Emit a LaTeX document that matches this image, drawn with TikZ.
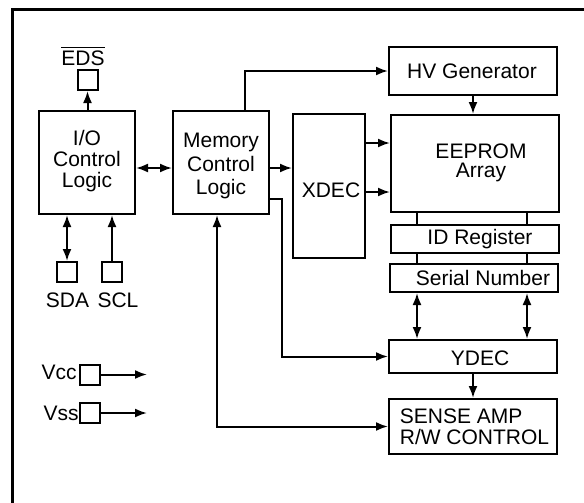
\documentclass[tikz,border=0pt]{standalone}
\usepackage{fontspec}
\setmainfont{Liberation Sans}
\usetikzlibrary{arrows.meta}
\usetikzlibrary{calc}
\newcommand{\blkfont}{\fontsize{10.5}{11.5}\selectfont}

\tikzset{
  blk/.style={draw, line width=1pt, inner sep=0pt},
  pad/.style={draw, line width=1pt, minimum size=10pt, inner sep=0pt},
  txt/.style={inner sep=0pt, align=center, font=\blkfont},
  conn/.style={line width=1pt, >={Latex[length=6pt,width=4.5pt]}},
}

\begin{document}
\begin{tikzpicture}[x=0.5pt,y=-0.5pt]
\useasboundingbox (0,0) rectangle (584,503);
% the frame (top and left only)
\draw[line width=1.5pt] (12,503) -- (12,9) -- (584,9);
% blocks
\node[blk, minimum width=48pt, minimum height=51.5pt] (io) at (87,162.5) {};
\node[blk, minimum width=48pt, minimum height=51.5pt] (mem) at (221,162.5) {};
\node[blk, minimum width=84pt, minimum height=24pt] (hv) at (473,71) {};
\node[blk, minimum width=36pt, minimum height=72pt] (xdec) at (329,186) {};
\node[blk, minimum width=84pt, minimum height=48.5pt] (eeprom) at (475,163.5) {};
\node[blk, minimum width=84pt, minimum height=14pt] (idreg) at (475,239) {};
\node[blk, minimum width=84pt, minimum height=14pt] (serial) at (474,278) {};
\node[blk, minimum width=84pt, minimum height=16.5pt] (ydec) at (473,356.5) {};
\node[blk, minimum width=84pt, minimum height=27.5pt] (sense) at (473,426.5) {};
% pads
\node[pad] (eds) at (87.5,80) {};
\node[pad] (sda) at (67,272) {};
\node[pad] (scl) at (112,272) {};
\node[pad] (vcc) at (89.5,374.5) {};
\node[pad] (vss) at (89.5,413) {};
\coordinate (vccend) at (147,374.5);
\coordinate (vssend) at (147,413);
% texts
\node[txt, font=\fontsize{10.5}{10.5}\selectfont] (tio) at (87,161) {I/O\\Control\\Logic};
\node[txt, font=\fontsize{10.5}{11.75}\selectfont] (tmem) at (221,166) {Memory\\Control\\Logic};
\node[txt] (thv) at (472,71) {HV Generator};
\node[txt] (txdec) at (331,190) {XDEC};
\node[txt, font=\fontsize{10.5}{9.5}\selectfont] (teep) at (481,163) {EEPROM\\Array};
\node[txt] (tid) at (480,239.5) {ID Register};
\node[txt] (tser) at (483,278) {Serial Number};
\node[txt] (tydec) at (480,358) {YDEC};
\node[txt, align=left, font=\fontsize{10.5}{10.5}\selectfont] (tsense) at (474.5,426.5) {SENSE AMP\\R/W CONTROL};
\node[txt] (teds) at (83,56) {$\overline{\mbox{EDS}}$};
\node[txt] (tsda) at (67.5,300) {SDA};
\node[txt] (tscl) at (118,300) {SCL};
\node[txt, anchor=east] (tvcc) at (77,372) {Vcc};
\node[txt, anchor=east] (tvss) at (79,413) {Vss};
% connectors
\draw[conn,->] (eds.south |- io.north) -- (eds.south);
\draw[conn,<->] (io.east |- 0,168) -- (mem.west |- 0,168);
\draw[conn,->] (mem.east |- 0,168) -- (xdec.west |- 0,168);
\draw[conn,->] (mem.north -| 245,0) |- (hv.west);
\draw[conn,->] (hv.south) -- (hv.south |- eeprom.north);
\draw[conn,->] (xdec.east |- 0,143) -- (eeprom.west |- 0,143);
\draw[conn,->] (xdec.east |- 0,192) -- (eeprom.west |- 0,192);
%     columns down the array
\foreach \cx in {417,527} {
  \draw[conn] (eeprom.south -| \cx,0) -- (idreg.north -| \cx,0);
  \draw[conn] (idreg.south -| \cx,0) -- (serial.north -| \cx,0);
  \draw[conn,<->] (serial.south -| \cx,0) -- (ydec.north -| \cx,0);
}
\draw[conn,->] (ydec.south) -- (ydec.south |- sense.north);
\draw[conn,->] (mem.east |- 0,199) -- ++(12,0) |- (ydec.west);
\draw[conn,<->] (mem.south -| 217,0) |- (sense.west);
%     pins
\draw[conn,<->] (sda.north |- io.south) -- (sda.north);
\draw[conn,->] (scl.north) -- (scl.north |- io.south);
\draw[conn,->] (vcc.east) -- (vccend);
\draw[conn,->] (vss.east) -- (vssend);
\end{tikzpicture}
\end{document}
